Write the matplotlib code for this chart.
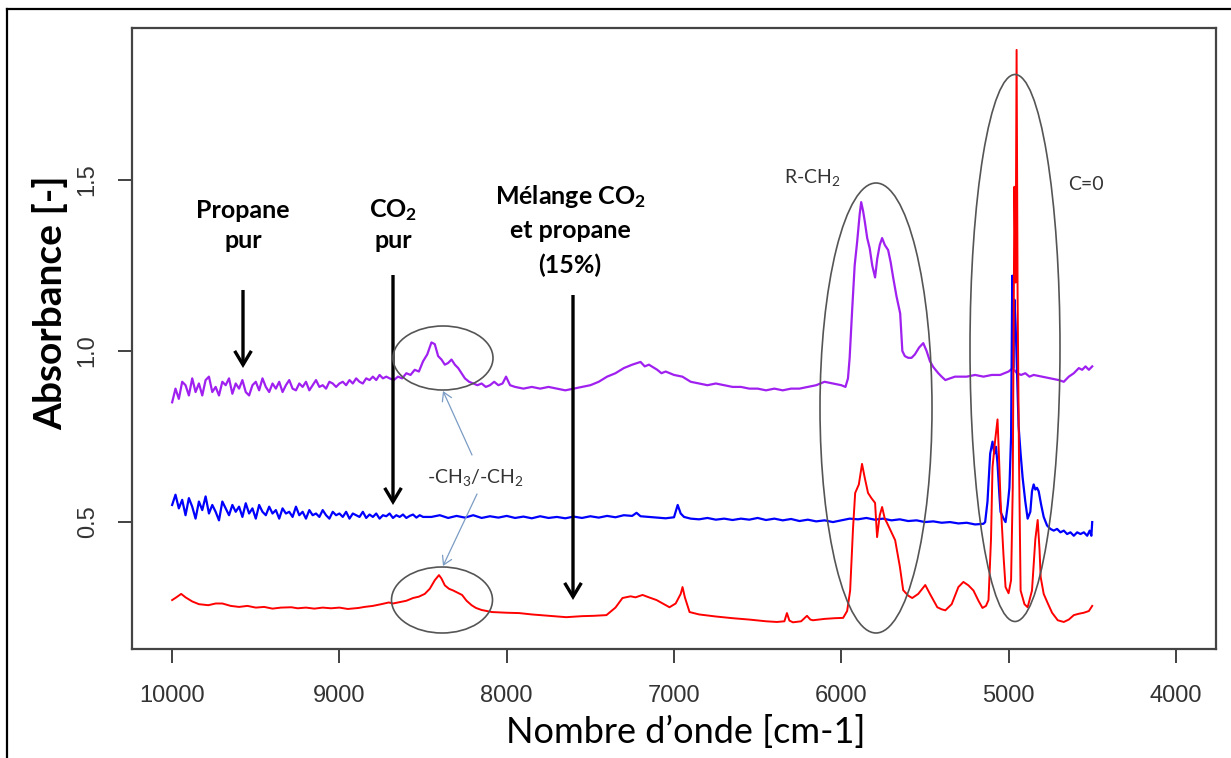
import matplotlib
matplotlib.use('Agg')
import matplotlib.pyplot as plt
from matplotlib.patches import Ellipse, FancyArrowPatch
from matplotlib.lines import Line2D

plt.rcParams['mathtext.fontset'] = 'custom'
plt.rcParams['mathtext.rm'] = 'Lato'
plt.rcParams['mathtext.it'] = 'Lato:italic'
plt.rcParams['mathtext.bf'] = 'Lato:bold'

# ---------------- data ----------------
# propane pur (purple): noisy part sampled every 20 cm-1 from 10000 to 8700, then read points
wn_propane = list(range(10000, 8699, -20)) + [
    8675, 8650, 8625,
    8600, 8575, 8550, 8525, 8500, 8475, 8450, 8430, 8410, 8390, 8370, 8350, 8330, 8310,
    8290, 8270, 8250, 8225, 8200, 8175, 8150, 8125, 8100, 8075, 8050, 8025, 8004, 7980,
    7950, 7900, 7850, 7800, 7750, 7700, 7650, 7600, 7550, 7500, 7450, 7400, 7350, 7300,
    7250, 7200, 7175, 7150, 7100, 7075, 7050, 7000, 6950, 6900, 6850, 6800, 6750, 6700,
    6650, 6600, 6550, 6500, 6450, 6400, 6350, 6300, 6250, 6200, 6150, 6100, 6050, 6000,
    5975, 5960, 5950, 5935, 5920, 5905, 5890, 5881, 5870, 5860, 5845, 5830, 5815, 5798,
    5785, 5770, 5756, 5740, 5720, 5705, 5690, 5670, 5648, 5635, 5620, 5600, 5580, 5560,
    5535, 5510, 5490, 5470, 5450, 5420, 5400, 5378, 5350, 5320, 5288, 5250, 5200, 5150,
    5100, 5050, 5000, 4975, 4950, 4925, 4900, 4875, 4850, 4800, 4750, 4700, 4670, 4640,
    4610, 4580, 4560, 4540, 4520, 4500]
abs_propane = [
    0.85, 0.89, 0.86, 0.91, 0.90, 0.87, 0.92, 0.88, 0.905, 0.87,
    0.915, 0.925, 0.88, 0.895, 0.87, 0.91, 0.90, 0.92, 0.875, 0.905,
    0.89, 0.915, 0.88, 0.87, 0.90, 0.91, 0.885, 0.92, 0.895, 0.88,
    0.905, 0.89, 0.91, 0.88, 0.90, 0.915, 0.89, 0.885, 0.905, 0.895,
    0.91, 0.885, 0.90, 0.915, 0.895, 0.90, 0.89, 0.91, 0.905, 0.895,
    0.905, 0.91, 0.90, 0.915, 0.905, 0.92, 0.91, 0.905, 0.92, 0.915,
    0.925, 0.915, 0.93, 0.92, 0.925, 0.92,
    0.915, 0.925, 0.92,
    0.935, 0.93, 0.945, 0.94, 0.97, 0.99, 1.025, 1.02, 0.985, 0.975, 0.96, 0.965, 0.975, 0.96,
    0.95, 0.935, 0.92, 0.91, 0.905, 0.90, 0.905, 0.895, 0.90, 0.91, 0.90, 0.905, 0.925, 0.90,
    0.895, 0.89, 0.895, 0.89, 0.895, 0.89, 0.885, 0.89, 0.895, 0.90, 0.91, 0.925, 0.935, 0.95,
    0.96, 0.968, 0.955, 0.96, 0.945, 0.935, 0.94, 0.93, 0.925, 0.91, 0.905, 0.90, 0.905, 0.90,
    0.895, 0.895, 0.89, 0.89, 0.885, 0.89, 0.885, 0.89, 0.89, 0.895, 0.90, 0.91, 0.905, 0.90,
    0.895, 0.92, 0.98, 1.12, 1.25, 1.32, 1.40, 1.435, 1.41, 1.38, 1.33, 1.30, 1.25, 1.215,
    1.27, 1.31, 1.33, 1.31, 1.295, 1.26, 1.215, 1.16, 1.11, 1.00, 0.985, 0.98, 0.98, 0.99,
    1.01, 1.023, 1.00, 0.97, 0.953, 0.935, 0.925, 0.915, 0.92, 0.925, 0.925, 0.925, 0.93, 0.925,
    0.93, 0.93, 0.94, 0.95, 0.935, 0.93, 0.935, 0.925, 0.93, 0.925, 0.92, 0.915, 0.91, 0.925,
    0.935, 0.95, 0.945, 0.955, 0.945, 0.955]

# CO2 pur (blue): noisy part sampled every 20 cm-1 from 10000 to 8500, then read points
wn_co2 = list(range(10000, 8499, -20)) + [
    8450, 8400, 8350, 8300, 8250, 8200, 8150, 8100,
    8050, 8000, 7950, 7900, 7850, 7800, 7750, 7700, 7650, 7600, 7550, 7500, 7450, 7400,
    7350, 7300, 7250, 7224, 7200, 7150, 7100, 7050, 7000, 6978, 6960, 6940, 6900, 6850,
    6800, 6750, 6700, 6650, 6600, 6550, 6500, 6450, 6400, 6350, 6300, 6250, 6200, 6150,
    6100, 6050, 6000, 5950, 5900, 5850, 5800, 5750, 5700, 5650, 5600, 5550, 5500, 5450,
    5400, 5350, 5300, 5250, 5200, 5150, 5140, 5126, 5110, 5096, 5085, 5075, 5066, 5055,
    5048, 5030, 5018, 5005, 4995, 4985, 4978, 4972, 4965, 4958, 4950, 4940, 4928, 4916,
    4900, 4886, 4870, 4860, 4850, 4840, 4830, 4820, 4805, 4790, 4770, 4750, 4730, 4710,
    4690, 4670, 4650, 4630, 4610, 4590, 4570, 4550, 4530, 4515, 4505, 4500]
abs_co2 = [
    0.55, 0.58, 0.54, 0.565, 0.52, 0.57, 0.545, 0.51, 0.56, 0.535,
    0.575, 0.525, 0.55, 0.53, 0.505, 0.56, 0.54, 0.52, 0.55, 0.53,
    0.545, 0.515, 0.555, 0.525, 0.54, 0.51, 0.55, 0.53, 0.52, 0.545,
    0.525, 0.535, 0.51, 0.54, 0.525, 0.53, 0.515, 0.545, 0.52, 0.53,
    0.51, 0.535, 0.52, 0.525, 0.515, 0.535, 0.52, 0.51, 0.53, 0.52,
    0.525, 0.515, 0.53, 0.51, 0.525, 0.52, 0.515, 0.53, 0.512, 0.522,
    0.515, 0.525, 0.51, 0.52, 0.517, 0.525, 0.512, 0.52, 0.515, 0.522,
    0.512, 0.518, 0.522, 0.513, 0.52, 0.515,
    0.515, 0.52, 0.512, 0.518, 0.513, 0.52, 0.512, 0.517,
    0.513, 0.518, 0.512, 0.516, 0.511, 0.517, 0.512, 0.515, 0.511, 0.516, 0.512, 0.517, 0.513, 0.518,
    0.514, 0.52, 0.518, 0.527, 0.517, 0.515, 0.513, 0.511, 0.514, 0.55, 0.525, 0.515, 0.51, 0.508,
    0.512, 0.507, 0.51, 0.506, 0.51, 0.507, 0.512, 0.506, 0.51, 0.505, 0.509, 0.503, 0.507, 0.502,
    0.505, 0.50, 0.505, 0.51, 0.508, 0.512, 0.507, 0.51, 0.505, 0.508, 0.503, 0.505, 0.50, 0.502,
    0.498, 0.50, 0.496, 0.498, 0.493, 0.495, 0.50, 0.56, 0.70, 0.735, 0.70, 0.72, 0.67, 0.58,
    0.53, 0.51, 0.50, 0.55, 0.60, 0.75, 1.22, 0.95, 1.15, 1.08, 0.95, 0.78, 0.70, 0.63,
    0.56, 0.51, 0.53, 0.59, 0.61, 0.595, 0.60, 0.59, 0.55, 0.515, 0.49, 0.48, 0.475, 0.48,
    0.47, 0.475, 0.465, 0.47, 0.46, 0.47, 0.465, 0.47, 0.46, 0.475, 0.46, 0.50]

# mélange CO2 + propane 15% (red)
wn_mix = [10000, 9975, 9946, 9920, 9880, 9840, 9784, 9740, 9700, 9650, 9600, 9550, 9500, 9450,
          9400, 9350, 9287, 9250, 9200, 9150, 9100, 9050, 9000, 8950, 8885, 8850, 8800, 8750,
          8705, 8680, 8650, 8600, 8560, 8525, 8490, 8460, 8430, 8405, 8390, 8370, 8345, 8320,
          8300, 8267, 8240, 8210, 8184, 8150, 8120, 8088, 8050, 8000, 7926, 7850, 7750, 7644,
          7550, 7480, 7404, 7350, 7308, 7260, 7230, 7188, 7150, 7104, 7060, 7027, 6990, 6960,
          6949, 6935, 6907, 6850, 6750, 6649, 6550, 6450, 6385, 6340, 6325, 6310, 6289, 6240,
          6205, 6185, 6169, 6100, 6040, 5989, 5965, 5947, 5930, 5917, 5895, 5876, 5860, 5840,
          5820, 5798, 5786, 5770, 5756, 5740, 5726, 5700, 5678, 5650, 5630, 5600, 5576, 5540,
          5498, 5470, 5426, 5400, 5378, 5340, 5300, 5270, 5240, 5210, 5180, 5156, 5135, 5120,
          5105, 5096, 5080, 5066, 5058, 5048, 5030, 5018, 5000, 4985, 4975, 4965, 4958, 4952,
          4946, 4938, 4928, 4905, 4886, 4860, 4840, 4826, 4815, 4808, 4790, 4766, 4740, 4706,
          4670, 4640, 4610, 4580, 4550, 4520, 4500]
abs_mix = [0.272, 0.28, 0.29, 0.28, 0.268, 0.26, 0.257, 0.262, 0.262, 0.255, 0.252, 0.255, 0.25, 0.252,
           0.247, 0.25, 0.251, 0.248, 0.25, 0.247, 0.25, 0.248, 0.25, 0.246, 0.249, 0.252, 0.255, 0.26,
           0.265, 0.262, 0.265, 0.27, 0.278, 0.282, 0.29, 0.305, 0.33, 0.345, 0.335, 0.315, 0.305, 0.30,
           0.295, 0.287, 0.27, 0.257, 0.249, 0.243, 0.24, 0.237, 0.236, 0.235, 0.234, 0.23, 0.226, 0.222,
           0.225, 0.226, 0.228, 0.25, 0.278, 0.283, 0.28, 0.287, 0.28, 0.272, 0.26, 0.251, 0.262, 0.29,
           0.31, 0.28, 0.237, 0.23, 0.224, 0.219, 0.215, 0.21, 0.208, 0.21, 0.234, 0.212, 0.207, 0.21,
           0.226, 0.215, 0.213, 0.217, 0.219, 0.22, 0.24, 0.30, 0.48, 0.585, 0.61, 0.67, 0.63, 0.585,
           0.57, 0.556, 0.456, 0.52, 0.544, 0.51, 0.497, 0.47, 0.447, 0.37, 0.301, 0.285, 0.278, 0.29,
           0.316, 0.29, 0.251, 0.245, 0.242, 0.26, 0.31, 0.325, 0.315, 0.30, 0.27, 0.249, 0.255, 0.272,
           0.45, 0.66, 0.74, 0.80, 0.70, 0.564, 0.40, 0.31, 0.292, 0.33, 0.60, 1.48, 1.20, 1.88,
           1.16, 0.70, 0.30, 0.26, 0.251, 0.30, 0.45, 0.506, 0.42, 0.339, 0.29, 0.263, 0.235, 0.213,
           0.208, 0.215, 0.228, 0.232, 0.235, 0.24, 0.255]

xticks = [10000, 9000, 8000, 7000, 6000, 5000, 4000]
yticks = [0.5, 1.0, 1.5]
ytick_labels = ['0.5', '1.0', '1.5']

# ---------------- figure ----------------
W, H = 1231, 758
fig = plt.figure(figsize=(W / 100, H / 100), dpi=100)
fig.patch.set_facecolor('white')

ax = fig.add_axes([132 / W, 1 - 649 / H, (1216 - 132) / W, (649 - 28) / H])
ax.plot(wn_propane, abs_propane, color='#A020F0', lw=1.6, zorder=2)
ax.plot(wn_co2, abs_co2, color='#0000FF', lw=1.6, zorder=3)
ax.plot(wn_mix, abs_mix, color='#FF0000', lw=1.4, zorder=4)

ax.set_xlim(10240, 3760)
ax.set_ylim(0.129, 1.944)
ax.set_xticks(xticks)
ax.set_xticklabels([str(t) for t in xticks], family='Liberation Sans', fontsize=17, color='#333333')
ax.set_yticks(yticks)
ax.set_yticklabels(ytick_labels, rotation=90, va='center', family='Liberation Sans',
                   fontsize=17, color='#333333')
ax.tick_params(axis='both', direction='out', length=10, width=1.3, color='#333333')
ax.tick_params(axis='x', pad=16)
ax.tick_params(axis='y', pad=14)
for s in ax.spines.values():
    s.set_color('#444444')
    s.set_linewidth(1.6)

# ---------------- overlay in pixel coordinates ----------------
ov = fig.add_axes([0, 0, 1, 1], zorder=10)
ov.set_xlim(0, W)
ov.set_ylim(H, 0)
ov.axis('off')
ov.patch.set_alpha(0)

# outer frame (left and top)
ov.add_line(Line2D([7, 7], [9, H], color='black', lw=1.6))
ov.add_line(Line2D([7, W], [9, 9], color='black', lw=1.6))

lato = ['Lato', 'DejaVu Sans']
fig.text(50 / W, 1 - 303 / H, 'Absorbance [-]', rotation=90, ha='center', va='center',
         family=lato, fontweight='bold', fontsize=28, color='black')
fig.text(686 / W, 1 - 732 / H, 'Nombre d\u2019onde [cm-1]', ha='center', va='center',
         family=lato, fontsize=26, color='black')

bold = dict(family=lato, fontweight='bold', fontsize=18, color='black', ha='center', va='center')
ov.text(243, 210, 'Propane', **bold)
ov.text(243, 241, 'pur', **bold)
ov.text(393, 210, r'CO$_\mathbf{2}$', **bold)
ov.text(393, 241, 'pur', **bold)
ov.text(570, 196, r'Mélange CO$_\mathbf{2}$', **bold)
ov.text(570, 230, 'et propane', **bold)
ov.text(570, 265, '(15%)', **bold)

def black_arrow(x, y0, y1):
    ov.add_patch(FancyArrowPatch((x, y0), (x, y1), arrowstyle='->,head_length=0.5,head_width=0.3',
                                 mutation_scale=20, lw=2.4, color='black', shrinkA=0, shrinkB=0,
                                 capstyle='butt', joinstyle='miter'))

black_arrow(243, 290, 368)
black_arrow(393, 275, 505)
black_arrow(573, 295, 600)

ell_kw = dict(fill=False, edgecolor='#555555', lw=1.2)
ov.add_patch(Ellipse((443, 358), 100, 64, **ell_kw))
ov.add_patch(Ellipse((442, 600), 101, 66, **ell_kw))
ov.add_patch(Ellipse((876, 408), 112, 450, **ell_kw))
ov.add_patch(Ellipse((1015, 348), 90, 547, **ell_kw))

norm = dict(family=lato, fontsize=14, color='#333333', va='center')
ov.text(784, 178, r'R-CH$_2$', ha='left', **norm)
ov.text(1068, 185, 'C=0', ha='left', **norm)
ov.text(476, 478, r'-CH$_3$/-CH$_2$', ha='center', **norm)

for (x0, y0), (x1, y1) in [((472, 455), (443, 391)), ((477, 494), (443, 566))]:
    ov.add_patch(FancyArrowPatch((x0, y0), (x1, y1), arrowstyle='->,head_length=0.5,head_width=0.3',
                                 mutation_scale=12, lw=0.9, color='#7b9cc4', shrinkA=0, shrinkB=0))

fig.savefig('out.png', dpi=100, facecolor='white')
